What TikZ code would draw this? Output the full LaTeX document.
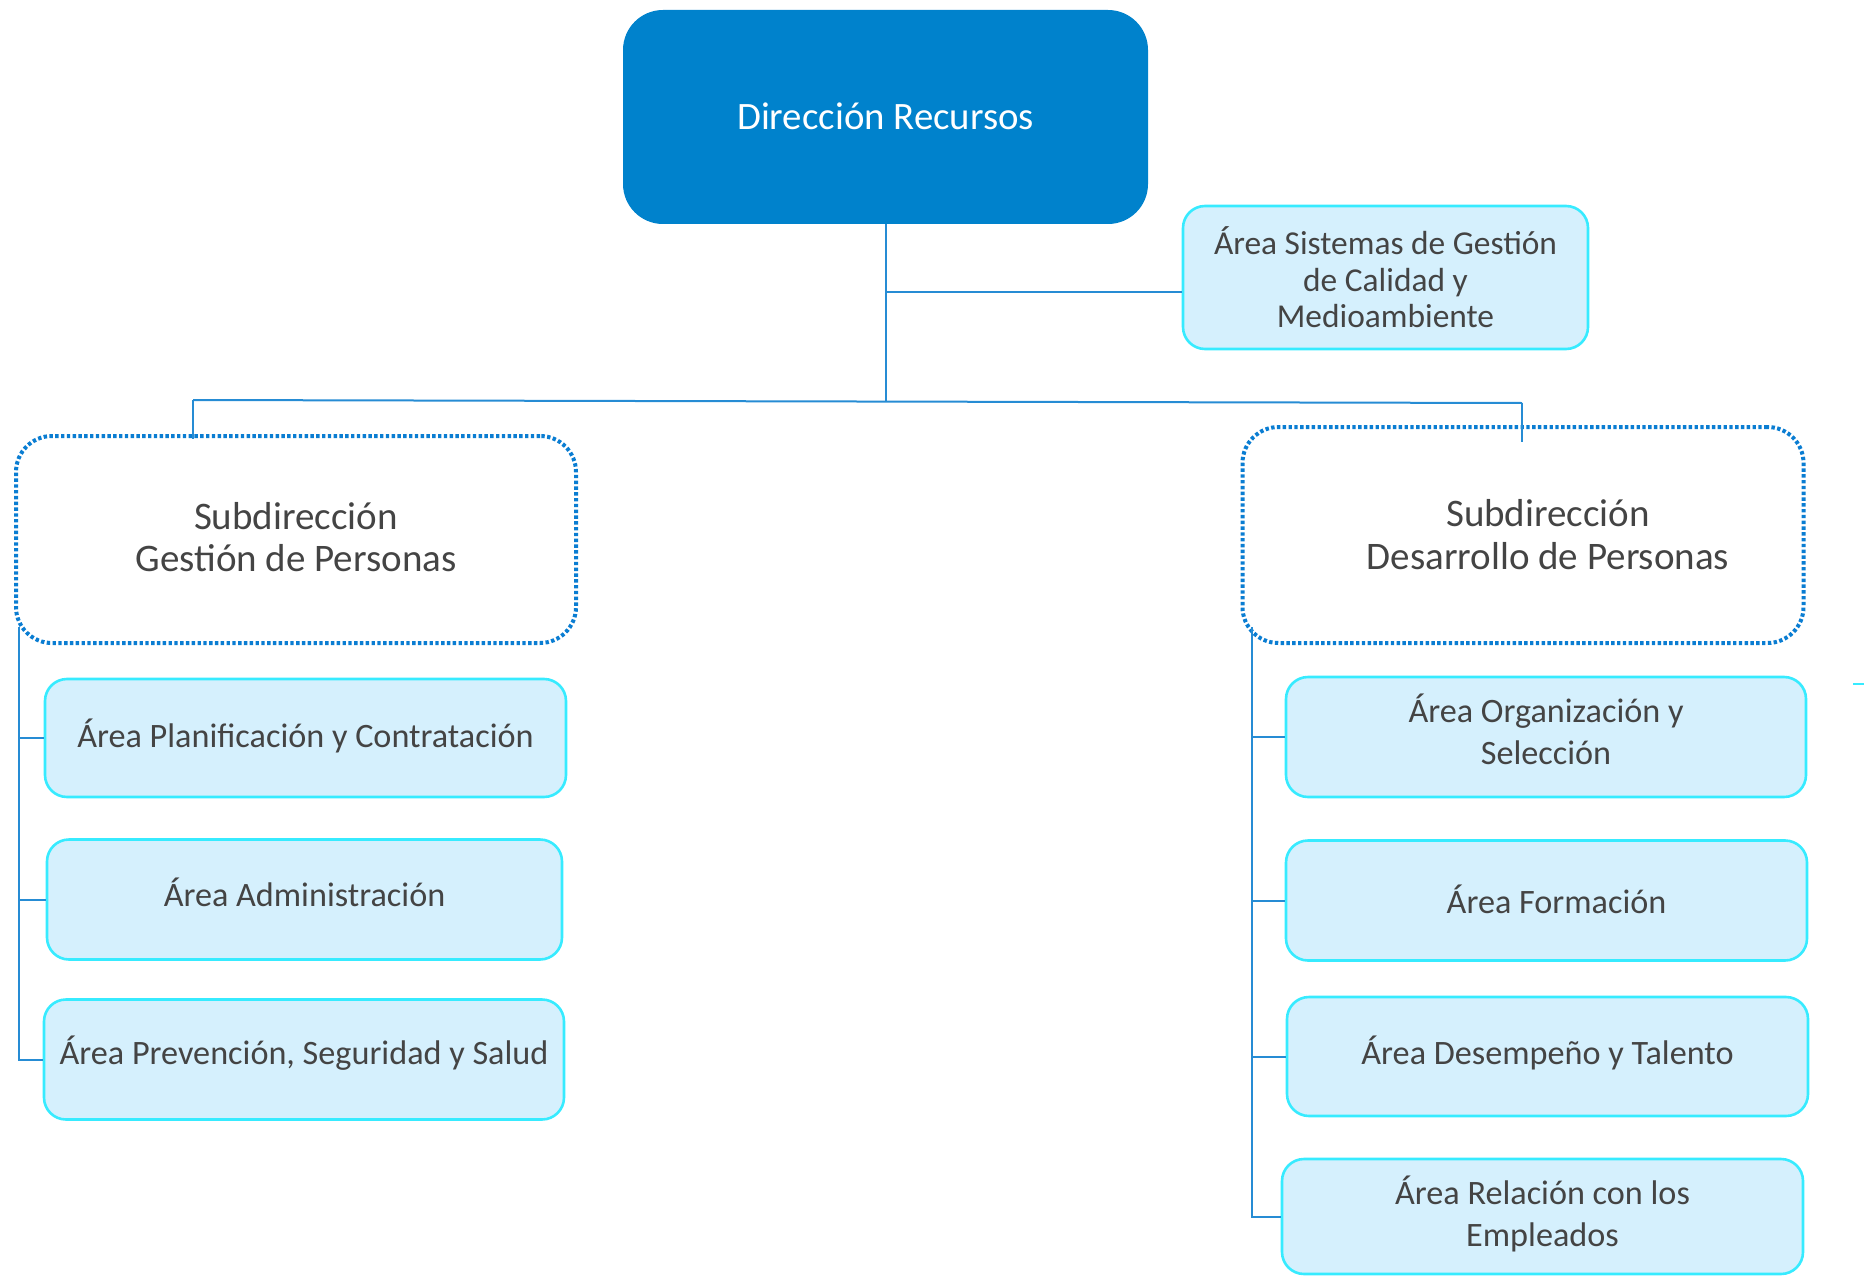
\documentclass[tikz,border=0pt]{standalone}
\usepackage{fontspec}
\setmainfont{Carlito}
\usetikzlibrary{calc}
\definecolor{dirB}{RGB}{0,130,204}
\definecolor{connC}{RGB}{38,140,212}
\definecolor{dotC}{RGB}{10,125,210}
\definecolor{cyanB}{RGB}{55,235,255}
\definecolor{areaF}{RGB}{213,240,253}
\definecolor{txtC}{RGB}{68,68,68}
% #1 = how far the first baseline is raised above the node centre
\newcommand{\btxt}[2]{\raisebox{#1}[0pt][0pt]{\begin{tabular}[t]{@{}c@{}}#2\end{tabular}}}
\begin{document}
\begin{tikzpicture}[x=1pt,y=-1pt,
  dirbox/.style={draw=none, fill=dirB, rounded corners=40pt, inner sep=0pt, text=white,
    font=\fontsize{38.8}{45}\selectfont, align=center},
  area/.style={draw=cyanB, line width=2.6pt, fill=areaF, rounded corners=22pt, inner sep=0pt,
    text=txtC, font=\fontsize{34.2}{42.2}\selectfont, align=center},
  subbox/.style={draw=dotC, line width=4pt, dash pattern=on 3.4pt off 2.4pt, rounded corners=36pt,
    inner sep=0pt, text=txtC, font=\fontsize{39}{42.5}\selectfont, align=center},
  subtext/.style={inner sep=0pt, text=txtC, font=\fontsize{39}{42.5}\selectfont, align=center},
  conn/.style={draw=connC, line width=2pt}]
\useasboundingbox (0,0) rectangle (1871,1276);

\node[dirbox, minimum width=525pt, minimum height=214pt] (dir) at (885.5,117) {\btxt{-12.3pt}{Dirección Recursos}};
\node[area, minimum width=405pt, minimum height=143pt, font=\fontsize{33.4}{36.7}\selectfont] (sis) at (1385.5,277.5) {\btxt{23.2pt}{Área Sistemas de Gestión\\de Calidad y\\Medioambiente}};

\node[subbox, minimum width=560pt, minimum height=207pt] (sd1) at (296,539.5) {\btxt{10.4pt}{Subdirección\\Gestión de Personas}};
\node[subbox, minimum width=561pt, minimum height=216pt] (sd2) at (1523,535) {};
\node[subtext] (sd2t) at (1548,535) {\btxt{8.5pt}{Subdirección\\Desarrollo de Personas}};

\node[area, minimum width=521pt, minimum height=118pt] (a1) at (305.5,738) {\btxt{-9.5pt}{Área Planificación y Contratación}};
\node[area, minimum width=515pt, minimum height=120pt] (a2) at (304.5,899.5) {\btxt{-6.8pt}{Área Administración}};
\node[area, minimum width=520pt, minimum height=120pt] (a3) at (304,1059.5) {\btxt{-5pt}{Área Prevención, Seguridad y Salud}};

\node[area, minimum width=520pt, minimum height=120pt] (b1) at (1546,737) {\btxt{14.6pt}{Área Organización y\\Selección}};
\node[area, minimum width=521pt, minimum height=120pt] (b2) at (1546.5,900.5) {\btxt{-13pt}{\hspace*{20pt}Área Formación}};
\node[area, minimum width=521pt, minimum height=119pt] (b3) at (1547.5,1056.5) {\btxt{-7.5pt}{Área Desempeño y Talento}};
\node[area, minimum width=521pt, minimum height=115pt] (b4) at (1542.5,1216.5) {\btxt{12.4pt}{Área Relación con los\\Empleados}};

\coordinate (hub) at (885.5,401.2);
\coordinate (busL) at (193,400);
\coordinate (busR) at (1522,403);
\coordinate (sisin) at ($(sis.west)+(0,14)$);
\draw[conn] (dir.south) -- (hub);
\draw[conn] (sisin) -- (sisin -| dir.south);
\draw[conn] (busL) -- (busR);
\draw[conn] (busL) -- ++(0,39);
\draw[conn] (busR) -- ++(0,39);

\coordinate (ls) at (19,627);
\draw[conn] (ls) |- (a3.west);
\draw[conn] (a1.west) -- (a1.west -| ls);
\draw[conn] (a2.west) -- (a2.west -| ls);

\coordinate (rs) at (1252,627);
\draw[conn] (rs) |- (b4.west);
\draw[conn] (b1.west) -- (b1.west -| rs);
\draw[conn] (b2.west) -- (b2.west -| rs);
\draw[conn] (b3.west) -- (b3.west -| rs);

\coordinate (tickA) at (1853,684);
\coordinate (tickB) at (1864,684);
\draw[draw=cyanB, line width=2pt] (tickA) -- (tickB);
\end{tikzpicture}
\end{document}
